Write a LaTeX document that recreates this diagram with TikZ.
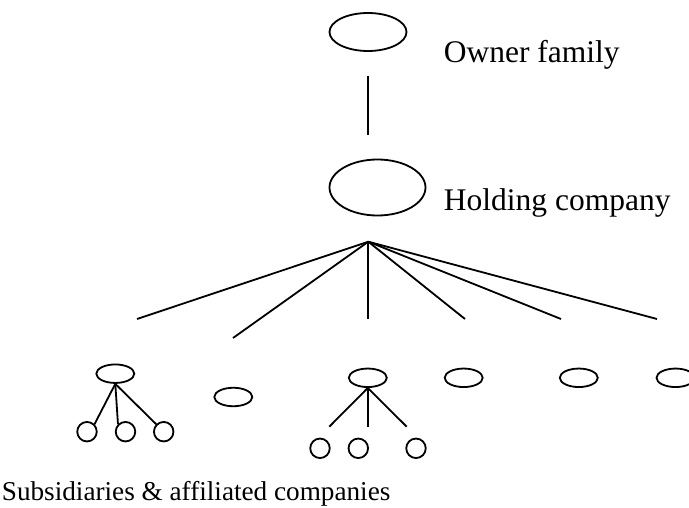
\documentclass[tikz,border=0pt]{standalone}
\usepackage{fontspec}
\setmainfont{Liberation Serif}
\usetikzlibrary{shapes.geometric}
\begin{document}
\begin{tikzpicture}[x=1pt,y=-1pt,
  line width=1.8pt,
  oval/.style={draw,ellipse,inner sep=0pt,line width=1.8pt},
  smalloval/.style={oval,minimum width=38pt,minimum height=18.5pt},
  leaf/.style={draw,circle,inner sep=0pt,minimum size=19.5pt,line width=1.8pt},
  lbl/.style={anchor=base west,inner sep=0pt,font=\fontsize{31.5}{36}\selectfont},
  sublbl/.style={anchor=base west,inner sep=0pt,font=\fontsize{27.2}{32}\selectfont}]
\useasboundingbox (0,0) rectangle (689,508);
\clip (0,0) rectangle (689,508);
% top
\node[oval,minimum width=77pt,minimum height=38pt] (own) at (368,32) {};
\node[lbl] (ownl) at (443,63) {Owner family};
\coordinate (v1) at (368,76);
\coordinate (v2) at (368,135);
\draw (v1) -- (v2);
\node[oval,minimum width=96pt,minimum height=56pt] (hold) at (377.5,187.5) {};
\node[lbl] (holdl) at (443,211) {Holding company};
% fan
\coordinate (apex) at (368.3,241.7);
\coordinate (f1) at (137,319);
\coordinate (f2) at (233,338);
\coordinate (f3) at (368.3,319);
\coordinate (f4) at (465,319);
\coordinate (f5) at (561,319);
\coordinate (f6) at (657,319);
\foreach \f in {f1,f2,f3,f4,f5,f6} \draw (apex) -- (\f);
% bottom ovals
\node[smalloval] (s1) at (115.3,373.7) {};
\node[smalloval] (s2) at (233.3,397) {};
\node[smalloval] (s3) at (367.8,377.8) {};
\node[smalloval] (s4) at (463.7,377.8) {};
\node[smalloval] (s5) at (578.8,377.8) {};
\node[smalloval] (s6) at (675.5,377.8) {};
% left subtree
\node[leaf] (a1) at (87,431.7) {};
\node[leaf] (a2) at (125.5,431.7) {};
\node[leaf] (a3) at (163.7,431.7) {};
\draw (s1.south) -- (a1.north east);
\draw (s1.south) -- (a2.north west);
\draw (s1.south) -- (a3.north west);
% center subtree
\node[leaf] (b1) at (320,448.3) {};
\node[leaf] (b2) at (358.3,448.3) {};
\node[leaf] (b3) at (416,448.3) {};
\coordinate (t1) at (329.3,426.7);
\coordinate (t2) at (367.8,426.7);
\coordinate (t3) at (406.7,426.7);
\draw (s3.south) -- (t1);
\draw (s3.south) -- (t2);
\draw (s3.south) -- (t3);
\node[sublbl] (subl) at (1,500) {Subsidiaries \& affiliated companies};
\end{tikzpicture}
\end{document}
